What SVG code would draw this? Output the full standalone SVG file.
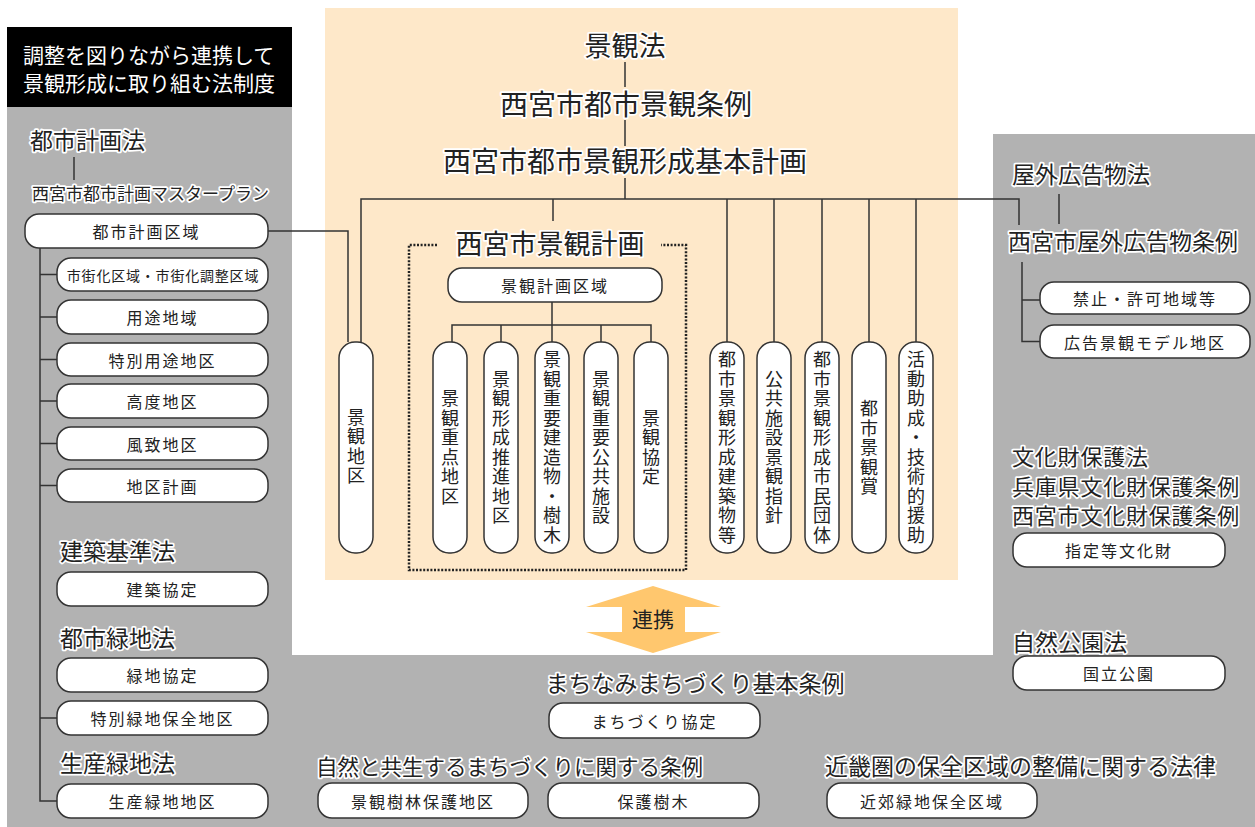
<svg xmlns="http://www.w3.org/2000/svg" width="1255" height="827" viewBox="0 0 1255 827">
<style>
text{font-family:"Noto Sans CJK JP","Noto Sans CJK SC",sans-serif;fill:#222}
.lbl{stroke:#fff;stroke-width:3.5;stroke-linejoin:round;paint-order:stroke}
.box{fill:#fff;stroke:#333;stroke-width:1.5}
.bt{font-size:16px;letter-spacing:2px;text-anchor:middle;dominant-baseline:central}
.vt{font-size:18px;letter-spacing:1.5px;text-anchor:middle;writing-mode:vertical-rl;text-orientation:upright}
.ln{fill:none;stroke:#333;stroke-width:1.5}
</style>
<rect x="0" y="0" width="1255" height="827" fill="#fff"/>
<path d="M7,27 H292 V655 H993 V134 H1255 V827 H7 Z" fill="#b2b2b2"/>
<rect x="325" y="8" width="633" height="572" fill="#fee8c9"/>
<g id="header">
<rect x="7" y="27" width="285" height="80" fill="#000"/>
<text x="23" y="63" font-size="21" style="fill:#fff">調整を図りながら連携して</text>
<text x="23" y="91" font-size="21" style="fill:#fff">景観形成に取り組む法制度</text>
</g>
<g id="connectors">
<path class="ln" d="M74,157 V180"/>
<path class="ln" d="M268,231 H348 V342"/>
<path class="ln" d="M40,248 V801 H57"/>
<path class="ln" d="M40,274.5 H57 M40,317 H57 M40,359.5 H57 M40,401 H57 M40,443.5 H57 M40,485.5 H57 M40,718 H57"/>
<path class="ln" d="M625,62 V87 M625,120 V146 M625,178 V199"/>
<path class="ln" d="M361,342 V199 H1019 V225"/>
<path class="ln" d="M553,199 V221"/>
<path class="ln" d="M727,199 V342 M774,199 V342 M822,199 V342 M869,199 V342 M916,199 V342"/>
<path class="ln" d="M552,302 V325 M452,342 V325 H651 V342 M501,325 V342 M552,325 V342 M601,325 V342"/>
<path class="ln" d="M1059,194 V224"/>
<path class="ln" d="M1022,262 V341.5 H1040 M1022,300 H1040"/>
</g>
<g id="toshikeikakuho">
<text class="lbl" x="30" y="149" font-size="23">都市計画法</text>
<text class="lbl" x="32" y="200" font-size="17">西宮市都市計画マスタープラン</text>
</g>
<g id="toshikeikaku-kuiki"><rect class="box" x="25" y="214" width="243" height="34" rx="14"/><text class="bt" x="146.5" y="231">都市計画区域</text></g>
<g id="shigaika"><rect class="box" x="57" y="258" width="211" height="33" rx="14"/><text class="bt" x="163" y="274.5" style="font-size:14px;letter-spacing:0.8px">市街化区域・市街化調整区域</text></g>
<g id="yoto"><rect class="box" x="57" y="300" width="211" height="34" rx="14"/><text class="bt" x="162.5" y="317">用途地域</text></g>
<g id="tokubetsu-yoto"><rect class="box" x="57" y="343" width="211" height="33" rx="14"/><text class="bt" x="162.5" y="359.5">特別用途地区</text></g>
<g id="kodo"><rect class="box" x="57" y="384" width="211" height="34" rx="14"/><text class="bt" x="162.5" y="401">高度地区</text></g>
<g id="fuchi"><rect class="box" x="57" y="427" width="211" height="33" rx="14"/><text class="bt" x="162.5" y="443.5">風致地区</text></g>
<g id="chikukeikaku"><rect class="box" x="57" y="469" width="211" height="33" rx="14"/><text class="bt" x="162.5" y="485.5">地区計画</text></g>
<g id="kenchiku"><text class="lbl" x="60" y="560" font-size="23">建築基準法</text>
<rect class="box" x="57" y="572" width="211" height="34" rx="14"/><text class="bt" x="162.5" y="589">建築協定</text></g>
<g id="ryokuchi"><text class="lbl" x="60" y="647" font-size="23">都市緑地法</text>
<rect class="box" x="57" y="658" width="211" height="34" rx="14"/><text class="bt" x="162.5" y="675">緑地協定</text>
<rect class="box" x="57" y="701" width="211" height="34" rx="14"/><text class="bt" x="162.5" y="718">特別緑地保全地区</text></g>
<g id="seisan"><text class="lbl" x="60" y="772" font-size="23">生産緑地法</text>
<rect class="box" x="57" y="784" width="211" height="34" rx="14"/><text class="bt" x="162.5" y="801">生産緑地地区</text></g>
<g id="keikanho">
<text class="lbl" x="625" y="56" font-size="27" text-anchor="middle">景観法</text>
<text class="lbl" x="626" y="115" font-size="28" text-anchor="middle">西宮市都市景観条例</text>
<text class="lbl" x="625" y="172" font-size="28" text-anchor="middle">西宮市都市景観形成基本計画</text>
</g>
<g id="keikanchiku"><rect class="box" x="339" y="342" width="34" height="211" rx="16"/><text class="vt" x="356" y="447">景観地区</text></g>
<g id="keikankeikaku">
<path d="M437,245 H409 V570 H686 V245 H661" fill="none" stroke="#222" stroke-width="2.5" stroke-dasharray="2 1.6"/>
<text class="lbl" x="550" y="254" font-size="27" text-anchor="middle">西宮市景観計画</text>
<rect class="box" x="448" y="268" width="214" height="34" rx="14"/><text class="bt" x="555" y="285">景観計画区域</text>
</g>
<g id="juten"><rect class="box" x="433" y="342" width="34" height="211" rx="16"/><text class="vt" x="450" y="448">景観重点地区</text></g>
<g id="suishin"><rect class="box" x="484" y="342" width="34" height="211" rx="16"/><text class="vt" x="501" y="448">景観形成推進地区</text></g>
<g id="kenzobutsu"><rect class="box" x="535" y="342" width="34" height="211" rx="16"/><text class="vt" x="552" y="448">景観重要建造物・樹木</text></g>
<g id="kokyo"><rect class="box" x="584" y="342" width="34" height="211" rx="16"/><text class="vt" x="601" y="448">景観重要公共施設</text></g>
<g id="kyotei"><rect class="box" x="634" y="342" width="34" height="211" rx="16"/><text class="vt" x="651" y="448">景観協定</text></g>
<g id="kenchikubutsu"><rect class="box" x="710" y="342" width="34" height="211" rx="16"/><text class="vt" x="727" y="448">都市景観形成建築物等</text></g>
<g id="shishin"><rect class="box" x="757" y="342" width="34" height="211" rx="16"/><text class="vt" x="774" y="448">公共施設景観指針</text></g>
<g id="shimin"><rect class="box" x="805" y="342" width="34" height="211" rx="16"/><text class="vt" x="822" y="448">都市景観形成市民団体</text></g>
<g id="sho"><rect class="box" x="852" y="342" width="34" height="211" rx="16"/><text class="vt" x="869" y="448">都市景観賞</text></g>
<g id="josei"><rect class="box" x="899" y="342" width="34" height="211" rx="16"/><text class="vt" x="916" y="448">活動助成・技術的援助</text></g>
<g id="okugai">
<text class="lbl" x="1012" y="183" font-size="23">屋外広告物法</text>
<text class="lbl" x="1008" y="250" font-size="23">西宮市屋外広告物条例</text>
<rect class="box" x="1040" y="282" width="210" height="32" rx="14"/><text class="bt" x="1145" y="298">禁止・許可地域等</text>
<rect class="box" x="1040" y="325" width="210" height="33" rx="14"/><text class="bt" x="1145" y="341.5">広告景観モデル地区</text>
</g>
<g id="bunkazai">
<text class="lbl" x="1012" y="465" font-size="22" style="letter-spacing:0.8px">文化財保護法</text>
<text class="lbl" x="1012" y="495" font-size="22" style="letter-spacing:0.8px">兵庫県文化財保護条例</text>
<text class="lbl" x="1012" y="524" font-size="22" style="letter-spacing:0.8px">西宮市文化財保護条例</text>
<rect class="box" x="1013" y="533" width="212" height="34" rx="14"/><text class="bt" x="1119" y="550">指定等文化財</text>
</g>
<g id="shizenkoen">
<text class="lbl" x="1012" y="651" font-size="23">自然公園法</text>
<rect class="box" x="1013" y="656" width="212" height="34" rx="14"/><text class="bt" x="1119" y="673">国立公園</text>
</g>
<g id="renkei">
<polygon points="653,586 721,607 685,607 685,632 721,632 653,653 586,632 622,632 622,607 586,607" fill="#ffc76e"/>
<text x="653" y="618" font-size="21" text-anchor="middle" dominant-baseline="central">連携</text>
</g>
<g id="machinami">
<text class="lbl" x="695" y="692" font-size="23" text-anchor="middle">まちなみまちづくり基本条例</text>
<rect class="box" x="549" y="703" width="211" height="35" rx="14"/><text class="bt" x="654.5" y="720.5">まちづくり協定</text>
</g>
<g id="shizen-kyosei">
<text class="lbl" x="316" y="775" font-size="21.5">自然と共生するまちづくりに関する条例</text>
<rect class="box" x="318" y="783" width="210" height="35" rx="14"/><text class="bt" x="423" y="800.5">景観樹林保護地区</text>
<rect class="box" x="548" y="783" width="211" height="35" rx="14"/><text class="bt" x="653.5" y="800.5">保護樹木</text>
</g>
<g id="kinkiken">
<text class="lbl" x="825" y="775" font-size="23">近畿圏の保全区域の整備に関する法律</text>
<rect class="box" x="827" y="783" width="210" height="35" rx="14"/><text class="bt" x="932" y="800.5">近郊緑地保全区域</text>
</g>
</svg>
